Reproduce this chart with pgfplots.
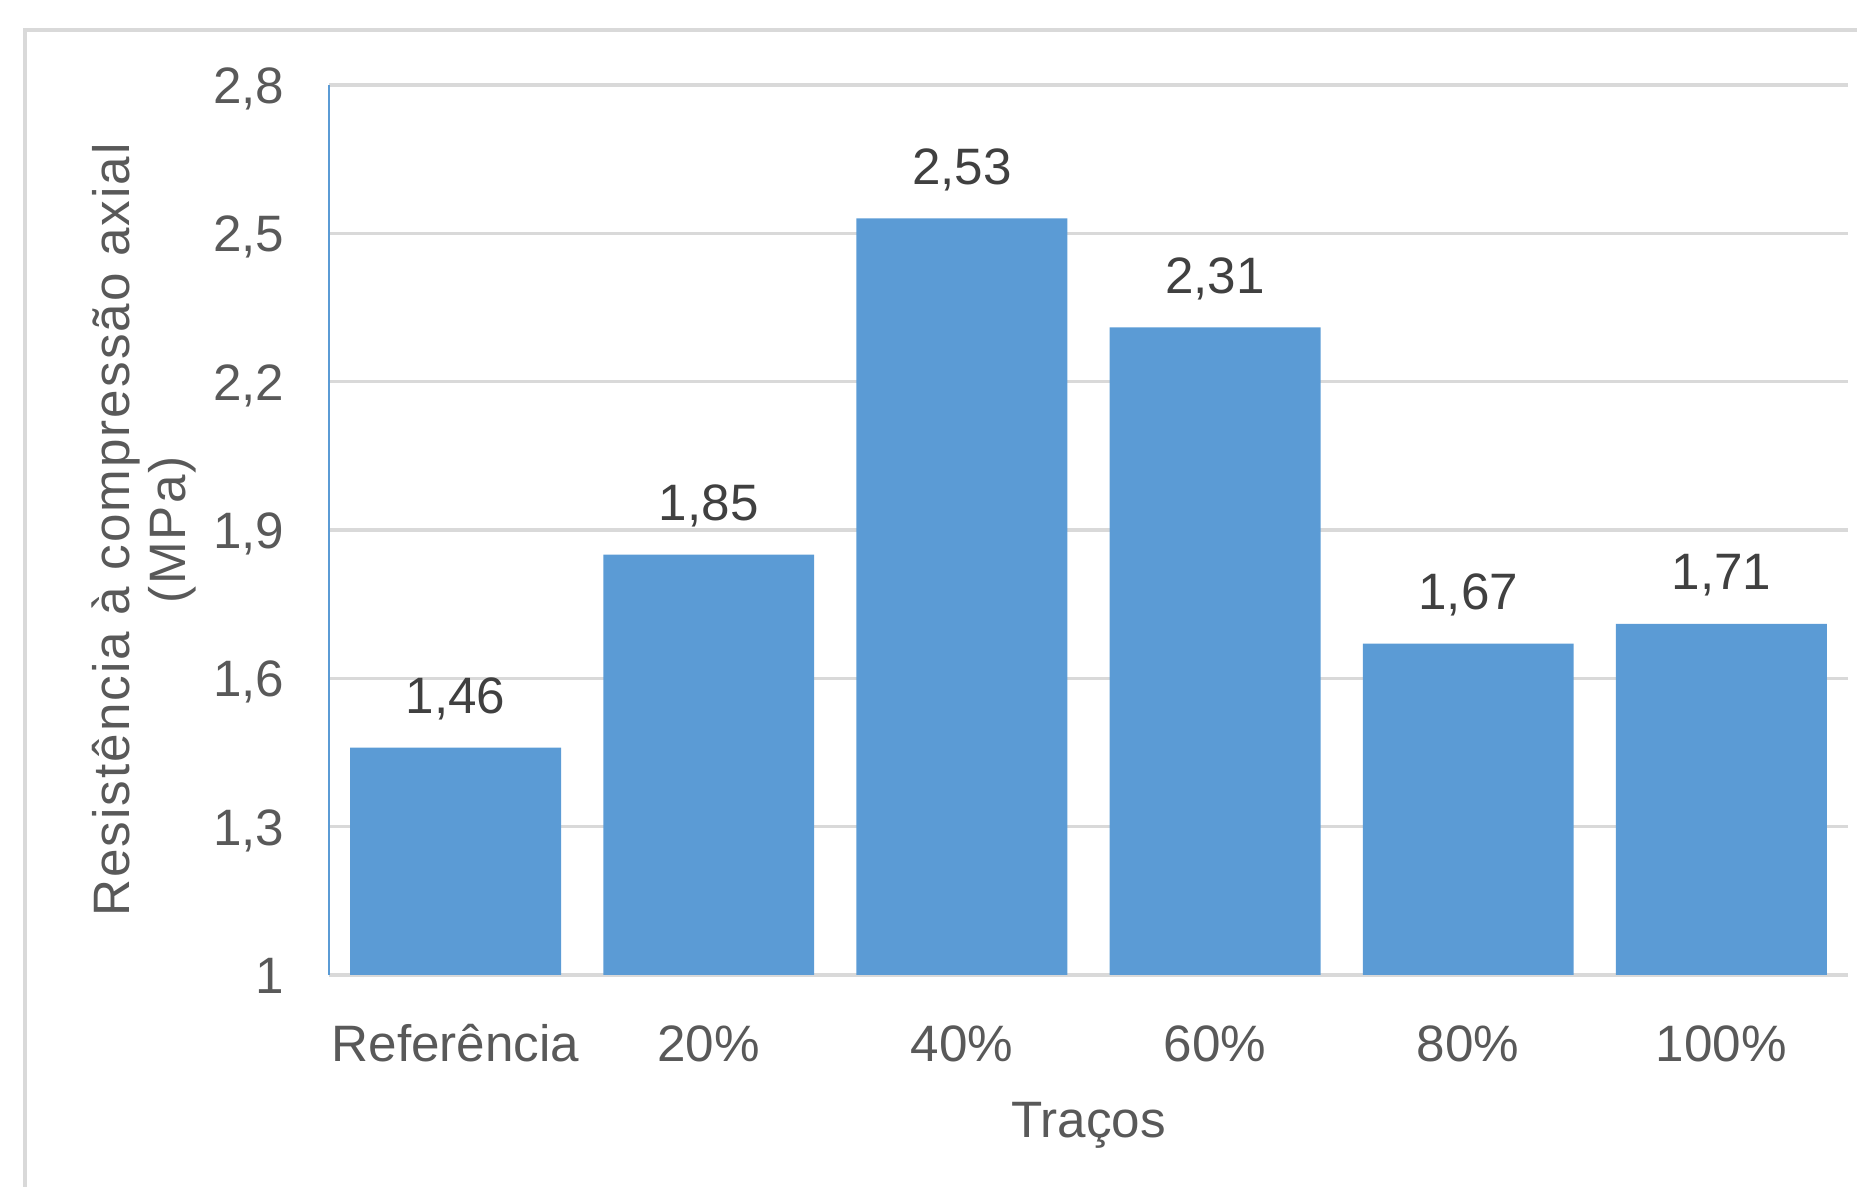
\documentclass[border=0pt]{standalone}
\usepackage{pgfplots}
\pgfplotsset{compat=1.18}
\usepackage{fontspec}
\setmainfont{Liberation Sans}
\newfontfamily\spacedfont[LetterSpace=4]{Liberation Sans}
\definecolor{barblue}{HTML}{5B9BD5}
\definecolor{gridgray}{HTML}{D9D9D9}
\definecolor{ticktext}{HTML}{595959}
\definecolor{valtext}{HTML}{404040}
\newcommand{\chartfont}{\fontsize{12.8}{15}\selectfont}
\begin{document}
\begin{tikzpicture}
\useasboundingbox (0,0) rectangle (464.25pt,296.75pt);
% outer chart frame (left and top edges)
\draw[gridgray, line width=0.9pt] (6.25pt,-5pt) -- (6.25pt,289.25pt) -- (470pt,289.25pt);
\begin{axis}[
  at={(82.25pt,53pt)}, anchor=south west,
  scale only axis, width=379.75pt, height=222.5pt,
  xmin=-0.5, xmax=5.5, ymin=1, ymax=2.8,
  separate axis lines,
  axis x line*=bottom, axis y line*=left,
  x axis line style={draw=gridgray, line width=0.8pt},
  y axis line style={draw=barblue, line width=0.5pt},
  xtick={0,1,2,3,4,5},
  xticklabels={Referência,20\%,40\%,60\%,80\%,100\%},
  ytick={1,1.3,1.6,1.9,2.2,2.5,2.8},
  yticklabels={{1},{1,3},{1,6},{1,9},{2,2},{2,5},{2,8}},
  major tick length=0pt,
  ymajorgrids, grid style={draw=gridgray, line width=0.8pt},
  tick label style={font=\chartfont, text=ticktext, inner sep=0pt},
  xticklabel style={anchor=base, yshift=-21.75pt},
  yticklabel style={anchor=base east, xshift=-11pt, yshift=-4.6pt},
  /pgf/number format/assume math mode=true,
  /pgf/number format/use comma,
  /pgf/number format/fixed,
  /pgf/number format/precision=2,
  /pgf/number format/fixed zerofill,
  every axis x label/.style={at={(axis description cs:0.5,-0.1685)}, anchor=center},
  every axis y label/.style={at={(axis description cs:-0.1215,0.5)}, rotate=90, anchor=center, align=center},
  xlabel style={font=\chartfont, text=ticktext},
  ylabel style={font=\spacedfont\fontsize{12.8}{14}\selectfont, text=ticktext},
  xlabel={Traços},
  ylabel={Resistência à compressão axial\\(MPa)},
  ybar, bar width=0.833,
  nodes near coords,
  every node near coord/.append style={font=\chartfont, text=valtext, inner sep=0pt, anchor=base, yshift=8.5pt},
]
\addplot[draw=none, fill=barblue] coordinates {
  (0,1.46) (1,1.85) (2,2.53) (3,2.31) (4,1.67) (5,1.71)
};
\end{axis}
\end{tikzpicture}
\end{document}
